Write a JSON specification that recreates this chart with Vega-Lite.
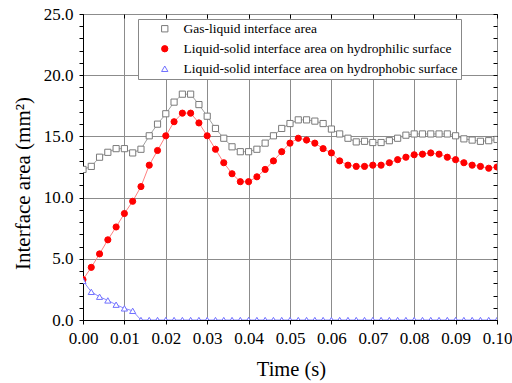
{
  "$schema": "https://vega.github.io/schema/vega-lite/v6.json",
  "width": 414,
  "height": 306,
  "autosize": {"type": "none"},
  "padding": {"left": 83, "top": 14, "right": 15, "bottom": 63},
  "background": "white",
  "config": {
    "font": "Liberation Serif",
    "view": {"stroke": "black", "strokeWidth": 1},
    "axis": {"labelFont": "Liberation Serif", "titleFont": "Liberation Serif", "labelColor": "black", "titleColor": "black", "tickColor": "black", "domainColor": "black", "gridColor": "#8c8c8c", "titleFontWeight": "normal"},
    "legend": {
      "orient": "none", "legendX": 55, "legendY": 5, "title": null,
      "labelFont": "Liberation Serif", "labelFontSize": 13.5, "labelColor": "black", "labelLimit": 0,
      "strokeColor": "#888888", "fillColor": "white", "padding": 3,
      "symbolSize": 40, "symbolStrokeWidth": 1, "symbolOffset": 17, "labelOffset": 12, "rowPadding": 5
    }
  },
  "data": {"values": [
    {"t": 0.000, "g": 12.3, "r": 3.3, "b": 3.2},
    {"t": 0.002, "g": 12.55, "r": 4.3, "b": 2.3},
    {"t": 0.004, "g": 13.3, "r": 5.4, "b": 1.9},
    {"t": 0.006, "g": 13.7, "r": 6.55, "b": 1.6},
    {"t": 0.008, "g": 14.0, "r": 7.6, "b": 1.25},
    {"t": 0.010, "g": 14.0, "r": 8.7, "b": 0.95},
    {"t": 0.012, "g": 13.65, "r": 9.7, "b": 0.75},
    {"t": 0.014, "g": 13.95, "r": 10.9, "b": 0},
    {"t": 0.016, "g": 15.05, "r": 12.65, "b": 0},
    {"t": 0.018, "g": 16.0, "r": 13.85, "b": 0},
    {"t": 0.020, "g": 16.85, "r": 15.05, "b": 0},
    {"t": 0.022, "g": 17.8, "r": 16.2, "b": 0},
    {"t": 0.024, "g": 18.45, "r": 16.9, "b": 0},
    {"t": 0.026, "g": 18.45, "r": 16.9, "b": 0},
    {"t": 0.028, "g": 17.6, "r": 16.1, "b": 0},
    {"t": 0.030, "g": 16.65, "r": 15.05, "b": 0},
    {"t": 0.032, "g": 15.65, "r": 13.95, "b": 0},
    {"t": 0.034, "g": 14.85, "r": 12.85, "b": 0},
    {"t": 0.036, "g": 14.15, "r": 11.95, "b": 0},
    {"t": 0.038, "g": 13.75, "r": 11.3, "b": 0},
    {"t": 0.040, "g": 13.75, "r": 11.3, "b": 0},
    {"t": 0.042, "g": 13.95, "r": 11.7, "b": 0},
    {"t": 0.044, "g": 14.45, "r": 12.3, "b": 0},
    {"t": 0.046, "g": 15.05, "r": 13.0, "b": 0},
    {"t": 0.048, "g": 15.65, "r": 13.75, "b": 0},
    {"t": 0.050, "g": 16.05, "r": 14.45, "b": 0},
    {"t": 0.052, "g": 16.35, "r": 14.85, "b": 0},
    {"t": 0.054, "g": 16.35, "r": 14.7, "b": 0},
    {"t": 0.056, "g": 16.25, "r": 14.45, "b": 0},
    {"t": 0.058, "g": 16.05, "r": 14.0, "b": 0},
    {"t": 0.060, "g": 15.6, "r": 13.65, "b": 0},
    {"t": 0.062, "g": 15.2, "r": 13.0, "b": 0},
    {"t": 0.064, "g": 14.85, "r": 12.65, "b": 0},
    {"t": 0.066, "g": 14.55, "r": 12.55, "b": 0},
    {"t": 0.068, "g": 14.6, "r": 12.55, "b": 0},
    {"t": 0.070, "g": 14.5, "r": 12.65, "b": 0},
    {"t": 0.072, "g": 14.5, "r": 12.65, "b": 0},
    {"t": 0.074, "g": 14.65, "r": 12.85, "b": 0},
    {"t": 0.076, "g": 14.85, "r": 13.1, "b": 0},
    {"t": 0.078, "g": 15.1, "r": 13.3, "b": 0},
    {"t": 0.080, "g": 15.2, "r": 13.5, "b": 0},
    {"t": 0.082, "g": 15.2, "r": 13.55, "b": 0},
    {"t": 0.084, "g": 15.2, "r": 13.65, "b": 0},
    {"t": 0.086, "g": 15.2, "r": 13.55, "b": 0},
    {"t": 0.088, "g": 15.2, "r": 13.3, "b": 0},
    {"t": 0.090, "g": 15.05, "r": 13.1, "b": 0},
    {"t": 0.092, "g": 14.8, "r": 12.85, "b": 0},
    {"t": 0.094, "g": 14.7, "r": 12.65, "b": 0},
    {"t": 0.096, "g": 14.6, "r": 12.55, "b": 0},
    {"t": 0.098, "g": 14.65, "r": 12.4, "b": 0},
    {"t": 0.100, "g": 14.75, "r": 12.5, "b": 0}
  ]},
  "transform": [{"fold": ["g", "r", "b"], "as": ["s", "v"]}],
  "resolve": {"axis": {"x": "independent", "y": "independent"}},
  "layer": [
    {
      "transform": [{"filter": "datum.s === 'g'"}],
      "mark": {"type": "line", "color": "#a0a0a0", "strokeWidth": 1, "clip": true},
      "encoding": {
        "x": {"field": "t", "type": "quantitative", "scale": {"domain": [0, 0.1], "nice": false, "zero": false},
          "axis": {"orient": "bottom", "values": [0, 0.01, 0.02, 0.03, 0.04, 0.05, 0.06, 0.07, 0.08, 0.09, 0.1], "format": ".2f", "labelFontSize": 17, "tickSize": 4, "labelPadding": 6, "labelFlush": false, "labelOverlap": false, "grid": true, "domain": true, "title": "Time (s)", "titleFontSize": 20.5, "titleX": 208, "titleY": 55, "titleAlign": "center", "titleBaseline": "alphabetic"}},
        "y": {"field": "v", "type": "quantitative", "scale": {"domain": [0, 25], "nice": false},
          "axis": {"orient": "left", "values": [0,1,2,3,4,5,6,7,8,9,10,11,12,13,14,15,16,17,18,19,20,21,22,23,24,25], "labelExpr": "datum.value % 5 === 0 ? format(datum.value, '.1f') : ''", "labelFontSize": 17, "tickSize": 4, "labelPadding": 6, "labelFlush": false, "labelOverlap": false, "grid": true, "gridOpacity": {"condition": {"test": "datum.value % 5 === 0", "value": 1}, "value": 0}, "domain": true, "title": "Interface area (mm²)", "titleFontSize": 21, "titleX": -54, "titleY": 169, "titleAngle": -90, "titleAlign": "center", "titleBaseline": "alphabetic"}}
      }
    },
    {
      "transform": [{"filter": "datum.s === 'r'"}],
      "mark": {"type": "line", "color": "#ff8080", "strokeWidth": 1, "clip": true},
      "encoding": {
        "x": {"field": "t", "type": "quantitative", "scale": {"domain": [0, 0.1], "nice": false, "zero": false},
          "axis": {"orient": "top", "values": [0, 0.01, 0.02, 0.03, 0.04, 0.05, 0.06, 0.07, 0.08, 0.09, 0.1], "labels": false, "tickSize": -4, "grid": false, "domain": false, "title": null}},
        "y": {"field": "v", "type": "quantitative", "scale": {"domain": [0, 25], "nice": false},
          "axis": {"orient": "right", "values": [0,1,2,3,4,5,6,7,8,9,10,11,12,13,14,15,16,17,18,19,20,21,22,23,24,25], "labels": false, "tickSize": -4, "grid": false, "domain": false, "title": null}}
      }
    },
    {
      "transform": [{"filter": "datum.s === 'b'"}],
      "mark": {"type": "line", "color": "#8c8cff", "strokeWidth": 1, "clip": true},
      "encoding": {
        "x": {"field": "t", "type": "quantitative", "scale": {"domain": [0, 0.1], "nice": false, "zero": false}, "axis": null},
        "y": {"field": "v", "type": "quantitative", "scale": {"domain": [0, 25], "nice": false}, "axis": null}
      }
    },
    {
      "mark": {"type": "point", "size": 38, "strokeWidth": 1, "opacity": 1, "clip": true},
      "encoding": {
        "x": {"field": "t", "type": "quantitative", "scale": {"domain": [0, 0.1], "nice": false, "zero": false}, "axis": null},
        "y": {"field": "v", "type": "quantitative", "scale": {"domain": [0, 25], "nice": false}, "axis": null},
        "shape": {"field": "s", "type": "nominal", "scale": {"domain": ["g", "r", "b"], "range": ["square", "circle", "triangle-up"]},
          "legend": {"labelFont": "Liberation Serif", "labelExpr": "datum.value === 'g' ? 'Gas-liquid interface area' : datum.value === 'r' ? 'Liquid-solid interface area on hydrophilic surface' : 'Liquid-solid interface area on hydrophobic surface'"}},
        "fill": {"field": "s", "type": "nominal", "scale": {"domain": ["g", "r", "b"], "range": ["white", "#ff0000", "white"]},
          "legend": {"labelFont": "Liberation Serif", "labelExpr": "datum.value === 'g' ? 'Gas-liquid interface area' : datum.value === 'r' ? 'Liquid-solid interface area on hydrophilic surface' : 'Liquid-solid interface area on hydrophobic surface'"}},
        "stroke": {"field": "s", "type": "nominal", "scale": {"domain": ["g", "r", "b"], "range": ["#7a7a7a", "#ff0000", "#7070ff"]},
          "legend": {"labelFont": "Liberation Serif", "labelExpr": "datum.value === 'g' ? 'Gas-liquid interface area' : datum.value === 'r' ? 'Liquid-solid interface area on hydrophilic surface' : 'Liquid-solid interface area on hydrophobic surface'"}}
      }
    }
  ]
}
